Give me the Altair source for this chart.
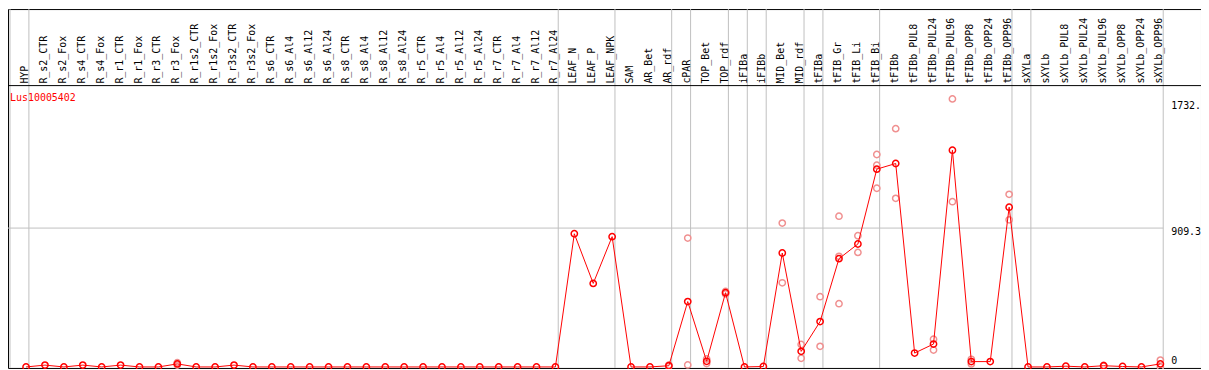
import altair as alt
import pandas as pd
import numpy as np

gene = "Lus10005402"

categories = [
    "HYP", "R_s2_CTR", "R_s2_Fox", "R_s4_CTR", "R_s4_Fox", "R_r1_CTR", "R_r1_Fox",
    "R_r3_CTR", "R_r3_Fox", "R_r1s2_CTR", "R_r1s2_Fox", "R_r3s2_CTR", "R_r3s2_Fox",
    "R_s6_CTR", "R_s6_Al4", "R_s6_Al12", "R_s6_Al24", "R_s8_CTR", "R_s8_Al4",
    "R_s8_Al12", "R_s8_Al24", "R_r5_CTR", "R_r5_Al4", "R_r5_Al12", "R_r5_Al24",
    "R_r7_CTR", "R_r7_Al4", "R_r7_Al12", "R_r7_Al24", "LEAF_N", "LEAF_P", "LEAF_NPK",
    "SAM", "AR_Bet", "AR_rdf", "cPAR", "TOP_Bet", "TOP_rdf", "iFIBa", "iFIBb",
    "MID_Bet", "MID_rdf", "tFIBa", "tFIB_Gr", "tFIB_Li", "tFIB_Bi", "tFIBb",
    "tFIBb_PUL8", "tFIBb_PUL24", "tFIBb_PUL96", "tFIBb_OPP8", "tFIBb_OPP24",
    "tFIBb_OPP96", "sXYLa", "sXYLb", "sXYLb_PUL8", "sXYLb_PUL24", "sXYLb_PUL96",
    "sXYLb_OPP8", "sXYLb_OPP24", "sXYLb_OPP96",
]

means = [
    0, 12, 0, 12, 0, 12, 0,
    0, 20, 0, 0, 12, 0,
    0, 0, 0, 0, 0, 0,
    0, 0, 0, 0, 0, 0,
    0, 0, 0, 0, 872, 547, 853,
    0, 0, 8, 428, 37, 486, 0, 3,
    746, 102, 297, 709, 805, 1295, 1332,
    91, 150, 1419, 35, 35,
    1046, 0, 0, 5, 0, 8,
    3, 0, 20,
]

nan = None
rep1 = [nan] * 61
rep2 = [nan] * 61
rep3 = [nan] * 61
rep_points = {
    8: (28, 12, None), 34: (12, 4, None), 35: (844, 13, None), 36: (52, 22, None),
    37: (494, 478, None), 40: (942, 551, None), 41: (147, 57, None),
    42: (460, 135, None), 43: (987, 414, 724), 44: (859, 750, None),
    45: (1391, 1321, 1170), 46: (1560, 1104, None), 48: (182, 111, None),
    49: (1755, 1082, None), 50: (50, 20, None), 52: (1130, 963, None),
    57: (10, 6, None), 60: (45, 0, None),
}
for k, (a, b, c) in rep_points.items():
    rep1[k], rep2[k], rep3[k] = a, b, c

separators = [0, 1, 29, 32, 35, 36, 38, 39, 40, 42, 43, 46, 53, 54, 61]
tick_values = [1732.0, 909.3]
tick_labels = ["1732.", "909.3"]
grid_values = [909.3]

n = len(categories)
df = pd.DataFrame({"cat": categories, "idx": np.arange(n), "mean": means})
df["xp"] = df["idx"] + 0.85
df["xl"] = df["idx"] + 0.8

rows = []
for i in range(n):
    for r in (rep1[i], rep2[i], rep3[i]):
        if r is not None:
            rows.append({"xp": i + 0.85, "v": r})
reps = pd.DataFrame(rows)

W, H = 1200, 361
FONT = "DejaVu Sans Mono"
xs = alt.Scale(domain=[0, 61], range=[2, 1162], nice=False, zero=False)
ys = alt.Scale(domain=[0, 1842], range=[360, 77], nice=False, zero=False)

seps = alt.Chart(pd.DataFrame({"pos": separators})).mark_rule(
    color="#c0c0c0", strokeWidth=1
).encode(x=alt.X("pos:Q", scale=xs, axis=None), y=alt.value(0), y2=alt.value(H))

grid = alt.Chart(pd.DataFrame({"v": grid_values})).mark_rule(
    color="#c0c0c0", strokeWidth=1
).encode(y=alt.Y("v:Q", scale=ys, axis=None), x=alt.value(0), x2=alt.value(1162))

header_line = alt.Chart(pd.DataFrame({"a": [0]})).mark_rule(
    color="black", strokeWidth=1
).encode(x=alt.value(0), x2=alt.value(W), y=alt.value(77))

rep_layer = alt.Chart(reps).mark_point(
    shape="circle", filled=False, color="#f09090", size=40, strokeWidth=1.5, opacity=1
).encode(x=alt.X("xp:Q", scale=xs, axis=None), y=alt.Y("v:Q", scale=ys, axis=None))

line = alt.Chart(df).mark_line(color="#ff0000", strokeWidth=1).encode(
    x=alt.X("xp:Q", scale=xs, axis=None), y=alt.Y("mean:Q", scale=ys, axis=None),
    order="idx:Q",
)

pts = alt.Chart(df).mark_point(
    shape="circle", filled=False, color="#ff0000", size=40, strokeWidth=1.5, opacity=1
).encode(x=alt.X("xp:Q", scale=xs, axis=None), y=alt.Y("mean:Q", scale=ys, axis=None))

labels = alt.Chart(df).mark_text(
    angle=270, align="left", baseline="middle", font=FONT, fontSize=10, color="black"
).encode(x=alt.X("xl:Q", scale=xs, axis=None), y=alt.value(75), text="cat:N")

title = alt.Chart(pd.DataFrame({"t": [gene]})).mark_text(
    align="left", baseline="middle", font=FONT, fontSize=10, color="#ff0000"
).encode(x=alt.value(2), y=alt.value(89), text="t:N")

ticks = alt.Chart(pd.DataFrame({"v": tick_values, "t": tick_labels})).mark_text(
    align="left", baseline="middle", font=FONT, fontSize=10, color="black", dy=4
).encode(x=alt.value(1170), y=alt.Y("v:Q", scale=ys, axis=None), text="t:N")

zero_tick = alt.Chart(pd.DataFrame({"v": [0], "t": ["0"]})).mark_text(
    align="left", baseline="middle", font=FONT, fontSize=10, color="black", dy=-6
).encode(x=alt.value(1170), y=alt.Y("v:Q", scale=ys, axis=None), text="t:N")

chart = alt.layer(
    seps, grid, header_line, rep_layer, line, pts, labels, title, ticks, zero_tick
).properties(
    width=W, height=H, autosize=alt.AutoSizeParams(type="none"), padding=0
).configure_view(stroke="black", strokeWidth=1)

chart.save("out.html", embed_options={"renderer": "svg", "actions": False})
